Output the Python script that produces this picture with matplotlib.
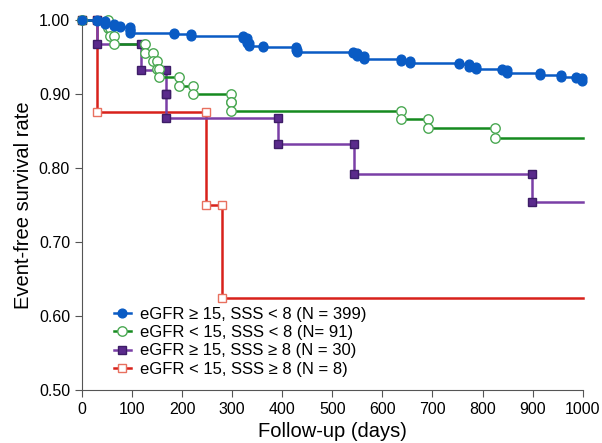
import numpy as np
import matplotlib.pyplot as plt

plt.rcParams['font.family'] = ['Liberation Sans', 'DejaVu Sans']

# event times (days) and survival after each event
blue_t = [31, 46, 64, 76, 96, 97, 184, 218, 322, 329, 334, 362, 428, 430,
          542, 550, 563, 637, 655, 752, 773, 786, 838, 849, 915, 957, 987, 999]
blue_s = [0.998, 0.995, 0.992, 0.990, 0.986, 0.983, 0.981, 0.979, 0.975, 0.969,
          0.965, 0.963, 0.960, 0.957, 0.955, 0.952, 0.947, 0.945, 0.942, 0.940,
          0.937, 0.934, 0.932, 0.928, 0.926, 0.923, 0.921, 0.917]

green_t = [52, 57, 65, 127, 143, 150, 154, 194, 221, 297, 297, 637, 691, 824]
green_s = [0.989, 0.978, 0.967, 0.956, 0.945, 0.934, 0.923, 0.911, 0.900,
           0.889, 0.877, 0.866, 0.854, 0.841]

purple_t = [31, 118, 168, 168, 391, 543, 898]
purple_s = [0.967, 0.933, 0.900, 0.867, 0.833, 0.792, 0.754]

red_t = [31, 247, 280]
red_s = [0.875, 0.750, 0.625]

labels = ['eGFR \u2265 15, SSS < 8 (N = 399)',
          'eGFR < 15, SSS < 8 (N= 91)',
          'eGFR \u2265 15, SSS \u2265 8 (N = 30)',
          'eGFR < 15, SSS \u2265 8 (N = 8)']

end_day = 1000


def step_path(times, surv):
    xs, ys = [0], [1.0]
    mx, my = [0], [1.0]
    prev = 1.0
    for t, s in zip(times, surv):
        xs += [t, t]
        ys += [prev, s]
        mx += [t, t]
        my += [prev, s]
        prev = s
    xs.append(end_day)
    ys.append(prev)
    return xs, ys, mx, my


fig = plt.figure(figsize=(6.02, 4.43), dpi=100)
ax = fig.add_axes([0.136, 0.1196, 0.832, 0.8353])

series = [
    (red_t, red_s, '#d8211b', 's', 'white', '#e8705f', 6.3),
    (purple_t, purple_s, '#7a3fa6', 's', '#5a2a8c', '#3d1d66', 6.3),
    (green_t, green_s, '#158a1f', 'o', 'white', '#4aa852', 6.8),
    (blue_t, blue_s, '#0a5bc4', 'o', '#0a5bc4', '#0a5bc4', 6.3),
]
handles = []
for t, s, lc, mk, mfc, mec, ms in series:
    xs, ys, mx, my = step_path(t, s)
    ax.plot(xs, ys, color=lc, lw=1.8, clip_on=False, zorder=2)
    ax.plot(mx, my, ls='none', marker=mk, ms=ms, mfc=mfc, mec=mec, mew=1,
            clip_on=False, zorder=3)
    h, = ax.plot([], [], color=lc, lw=1.8, marker=mk, ms=ms, mfc=mfc, mec=mec, mew=1)
    handles.append(h)

handles = handles[::-1]
ax.legend(handles, labels, loc='upper left', bbox_to_anchor=(0.064, 0.225),
          frameon=False, fontsize=12, handlelength=1.0, handletextpad=0.55,
          labelspacing=0.2, borderpad=0, borderaxespad=0)

ax.set_xlim(0, 1000)
ax.set_ylim(0.5, 1.0)
ax.set_xticks(np.arange(0, 1001, 100))
ax.set_yticks(np.arange(0.5, 1.01, 0.1))
ax.set_yticklabels(['%.2f' % v for v in np.arange(0.5, 1.01, 0.1)])
for sp in ['top', 'right']:
    ax.spines[sp].set_visible(False)
for sp in ['left', 'bottom']:
    ax.spines[sp].set_color('#555555')
ax.tick_params(colors='#555555', labelcolor='black', labelsize=11.5, length=5)
ax.set_xlabel('Follow-up (days)', fontsize=14.5, labelpad=4)
ax.set_ylabel('Event-free survival rate', fontsize=14.5, labelpad=4)

fig.savefig('out.png', dpi=100)
